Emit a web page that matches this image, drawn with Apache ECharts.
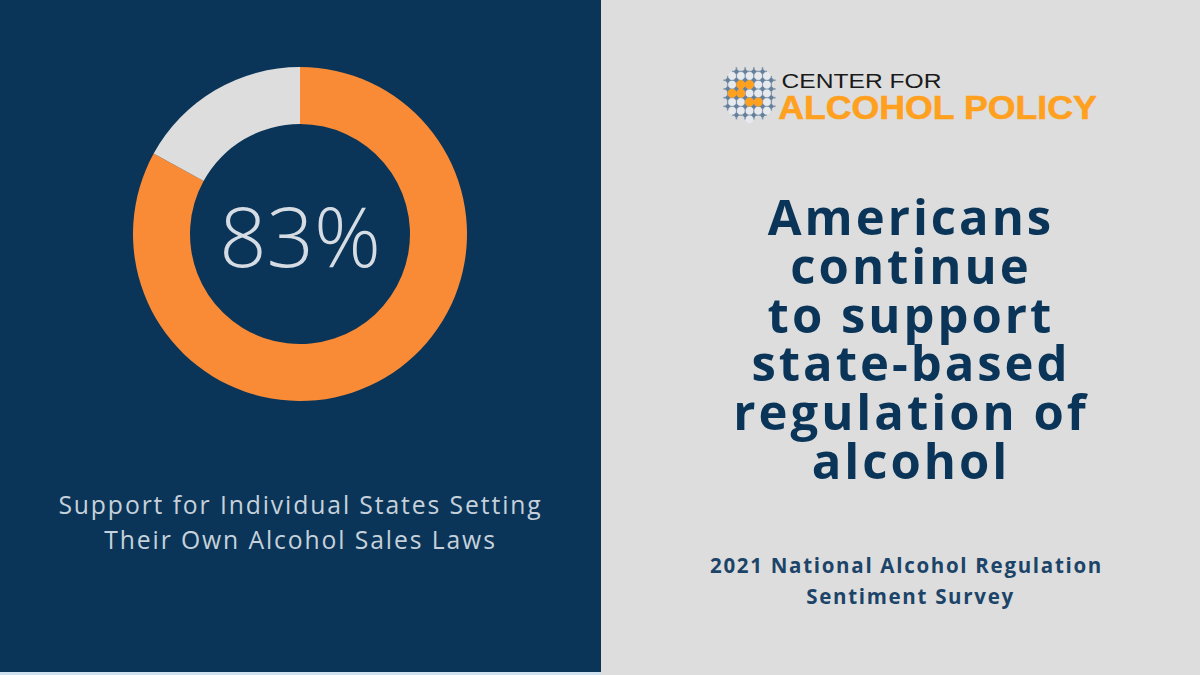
<!DOCTYPE html>
<html>
<head>
<meta charset="utf-8">
<style>html,body{margin:0;padding:0;background:#dddddd}#chart{width:1200px;height:675px}</style>
<script src="https://cdn.jsdelivr.net/npm/echarts@6/dist/echarts.min.js"></script>
</head>
<body>
<div id="chart"></div>
<script>
var categories = ['Support', 'Other'];
var values = [83, 17];
var captionLines = ['Support for Individual States Setting', 'Their Own Alcohol Sales Laws'];
var headingLines = ['Americans', 'continue', 'to support', 'state-based', 'regulation of', 'alcohol'];
var surveyLines = ['2021 National Alcohol Regulation', 'Sentiment Survey'];
var logoTop = 'CENTER FOR';
var logoBottom = 'ALCOHOL POLICY';

var NAVY = '#0a3558', GREY = '#dddddd', ORANGE = '#f98b36', LOGO_ORANGE = '#ffa01f';

function textLine(str, x, y, size, weight, color, family, spacing, scaleX, stroke) {
	return {
		type: 'text', x: x, y: y, silent: true,
		scaleX: scaleX || 1,
		info: spacing,
		style: {
			text: str, fill: color, align: 'center', verticalAlign: 'middle',
			stroke: stroke ? color : null, lineWidth: stroke || 0,
			font: weight + ' ' + size + 'px ' + (family || '"Open Sans"')
		}
	};
}

// logo: light cells with blue-grey knots between them
function logoDots() {
	var out = [], step = 8.7, cx = 749, cy = 94;
	var orange = { '-1,-1': 1, '0,-1': 1, '-2,0': 1, '-1,0': 1, '0,1': 1, '1,1': 1 };
	for (var i = -3; i <= 3; i++) {
		for (var j = -3; j <= 3; j++) {
			var px = 749.5 + i * step, py = 93.3 + j * step;
			if (Math.sqrt((px - cx) * (px - cx) + (py - cy) * (py - cy)) > 25.5) continue;
			var isOrange = orange[i + ',' + j];
			out.push({ type: 'circle', silent: true, shape: { cx: px, cy: py, r: isOrange ? 4.5 : 3.8 },
				style: { fill: isOrange ? LOGO_ORANGE : '#e6e9ed' }, z: isOrange ? 4 : 2 });
		}
	}
	for (i = -3; i <= 2; i++) {
		for (j = -3; j <= 2; j++) {
			var kx = 749.5 + (i + 0.5) * step, ky = 93.3 + (j + 0.5) * step;
			if (Math.sqrt((kx - cx) * (kx - cx) + (ky - cy) * (ky - cy)) > 27) continue;
			out.push({ type: 'circle', silent: true, shape: { cx: kx, cy: ky, r: 2.2 },
				style: { fill: '#64809c' }, z: 3 });
			out.push({ type: 'rect', silent: true, shape: { x: kx - 0.8, y: ky - step / 2, width: 1.6, height: step },
				style: { fill: '#7f95ac' }, z: 1 });
			out.push({ type: 'rect', silent: true, shape: { x: kx - step / 2, y: ky - 0.8, width: step, height: 1.6 },
				style: { fill: '#7f95ac' }, z: 1 });
		}
	}
	return out;
}

var elements = [
	{ type: 'rect', silent: true, z: -10, shape: { x: 0, y: 0, width: 601, height: 672 }, style: { fill: NAVY } },
	{ type: 'rect', silent: true, z: -10, shape: { x: 0, y: 672, width: 601, height: 3 }, style: { fill: '#cfe0ee' } }
];
var headingY = [216, 265, 314, 362, 411, 460];
headingLines.forEach(function (s, i) { elements.push(textLine(s, 911, headingY[i], 49, 700, NAVY, null, 3)); });
var captionY = [504, 539];
captionLines.forEach(function (s, i) { elements.push(textLine(s, 300.5, captionY[i], 24.7, 400, '#c6d1db', null, 1.9)); });
var surveyX = [906.5, 910.5];
surveyLines.forEach(function (s, i) { elements.push(textLine(s, surveyX[i], 565 + i * 31, 20.5, 700, '#1c4468', null, 1.7)); });
elements.push(textLine(logoTop, 861.5, 81.5, 20, 400, '#1a1a1a', '"Liberation Sans"', 0, 1.23));
elements.push(textLine(logoBottom, 937.5, 106.5, 34, 700, LOGO_ORANGE, '"Liberation Sans"', 0, 1.05, 0.6));
elements = elements.concat(logoDots());

var myChart = echarts.init(document.getElementById('chart'), null, { renderer: 'svg', width: 1200, height: 675 });
var option = {
	animation: false,
	backgroundColor: GREY,
	graphic: { elements: elements },
	series: [{
		type: 'pie',
		center: [300, 234],
		radius: [110, 167],
		startAngle: 90,
		clockwise: true,
		silent: true,
		itemStyle: { borderWidth: 0 },
		label: { show: false },
		labelLine: { show: false },
		data: [
			{
				name: categories[0], value: values[0], itemStyle: { color: ORANGE },
				label: {
					show: true, position: 'center', formatter: '{c}%',
					fontFamily: '"Open Sans"', fontWeight: 300, fontSize: 83, color: '#d5dce3'
				}
			},
			{ name: categories[1], value: values[1], itemStyle: { color: GREY } }
		]
	}]
};
myChart.setOption(option);

// letter spacing is not an ECharts text option, put it on the svg text nodes
var spacingByText = {};
elements.forEach(function (e) { if (e.type === 'text') spacingByText[e.style.text] = e.info; });
function applySpacing() {
	var nodes = document.querySelectorAll('#chart svg text');
	for (var i = 0; i < nodes.length; i++) {
		var sp = spacingByText[nodes[i].textContent];
		if (sp) nodes[i].setAttribute('letter-spacing', sp);
	}
}
applySpacing();
setTimeout(applySpacing, 100);
</script>
</body>
</html>
